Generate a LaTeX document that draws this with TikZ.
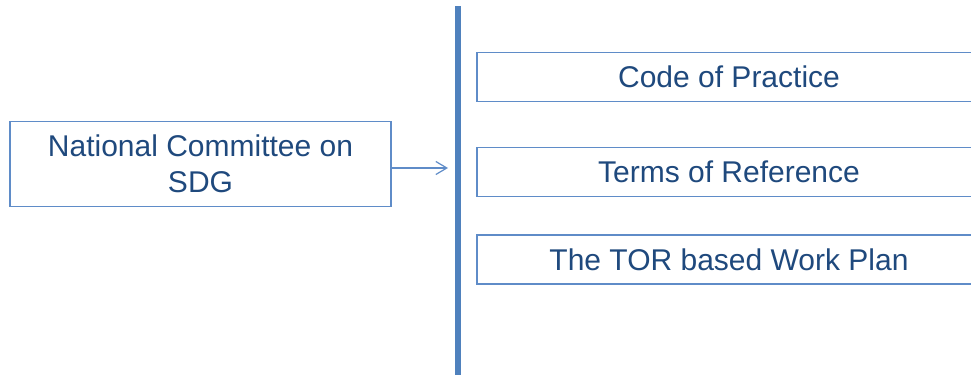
\documentclass[tikz,border=0pt]{standalone}
\usepackage{fontspec}
\setmainfont{Liberation Sans}
\usetikzlibrary{arrows.meta}

\definecolor{textblue}{HTML}{1F497D}
\definecolor{barblue}{HTML}{4F81BD}
\definecolor{boxblue}{HTML}{5F8CC8}

\begin{document}
\begin{tikzpicture}[x=1pt, y=-1pt,
    >={Straight Barb[length=11pt,width=13pt]},
    box/.style={draw=boxblue, line width=1.4pt, text=textblue,
      font=\fontsize{30}{36}\selectfont, align=center, inner sep=0pt},
    itembox/.style={box, minimum width=504pt, minimum height=49pt}]

  \useasboundingbox (0,0) rectangle (971,375);
  \clip (0,0) rectangle (971,375);

  % committee box
  \node[box, minimum width=381pt, minimum height=85pt] (ncs) at (200.5,164)
    {National Committee on\\SDG};

  % divider
  \coordinate (bartop) at (458,6);
  \coordinate (barbot) at (458,375);
  \draw[barblue, line width=6pt] (bartop) -- (barbot);

  % items on the right
  \node[itembox] (cop) at (729,77) {Code of Practice};
  \node[itembox] (tor) at (729,172) {Terms of Reference};
  \node[itembox] (plan) at (729,259.5) {The TOR based Work Plan};

  % arrow to the divider
  \coordinate (tip) at (448,168);
  \draw[->, boxblue, line width=1.2pt] (ncs.east |- tip) -- (tip);

\end{tikzpicture}
\end{document}
